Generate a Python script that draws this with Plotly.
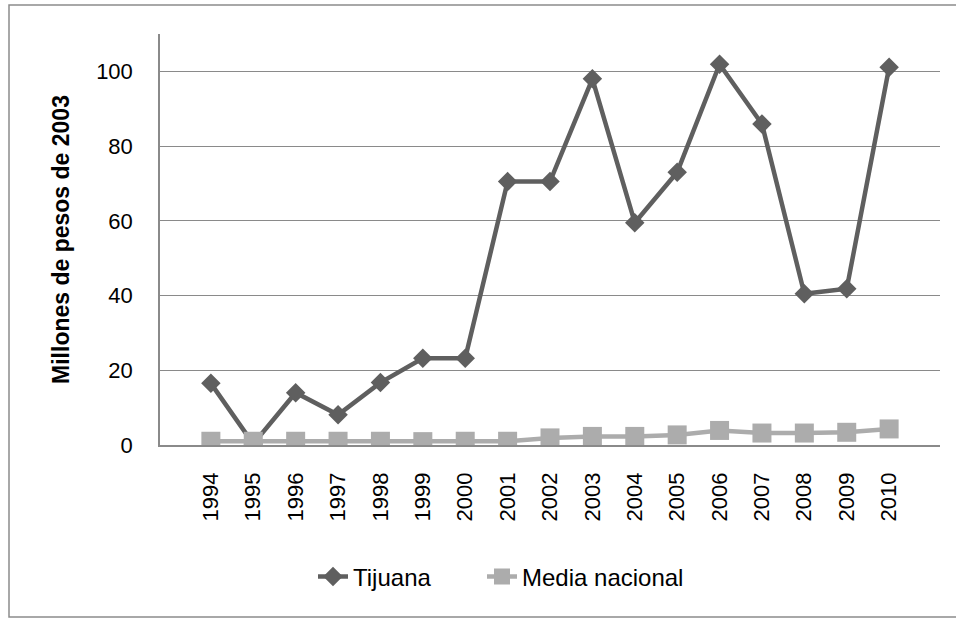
import plotly.graph_objects as go

# Series data
years = ["1994", "1995", "1996", "1997", "1998", "1999", "2000", "2001", "2002",
         "2003", "2004", "2005", "2006", "2007", "2008", "2009", "2010"]
tijuana = [16.5, 0.3, 14.0, 8.1, 16.7, 23.2, 23.2, 70.5, 70.5,
           98.0, 59.5, 73.0, 101.9, 85.9, 40.5, 41.8, 101.1]
media_nacional = [1.0, 1.0, 1.0, 1.0, 1.0, 0.9, 1.0, 1.0, 1.9,
                  2.3, 2.3, 2.7, 3.9, 3.2, 3.2, 3.4, 4.3]
y_ticks = [0, 20, 40, 60, 80, 100]

W, H = 956, 618
ML, MR, MT, MB = 160, 16, 34, 173
FONT = "Liberation Sans, Arial, sans-serif"


def px_to_paper(x=None, y=None):
    """Convert pixel coordinates of the page into paper coordinates."""
    pw, ph = W - ML - MR, H - MT - MB
    out = []
    if x is not None:
        out.append((x - ML) / pw)
    if y is not None:
        out.append((H - MB - y) / ph)
    return out[0] if len(out) == 1 else tuple(out)


fig = go.Figure()
fig.add_trace(go.Scatter(
    x=years, y=tijuana, name="Tijuana", mode="lines+markers",
    line=dict(color="#5f5f5f", width=4.5),
    marker=dict(symbol="diamond", size=15, color="#5f5f5f"),
    legend="legend",
))
fig.add_trace(go.Scatter(
    x=years, y=media_nacional, name="Media nacional", mode="lines+markers",
    line=dict(color="#acacac", width=4.5),
    marker=dict(symbol="square", size=19, color="#acacac"),
    legend="legend2",
))

# outer chart frame (its right edge runs off the page)
x0, y0 = px_to_paper(x=9, y=5)
x1, y1 = px_to_paper(x=970, y=617)
fig.add_shape(type="rect", xref="paper", yref="paper",
              x0=x0, y0=y1, x1=x1, y1=y0,
              line=dict(color="#8c8c8c", width=1.5), layer="below")

leg_y = px_to_paper(y=577)
leg_common = dict(orientation="h", y=leg_y, xanchor="left", yanchor="middle",
                  font=dict(size=24, color="#000000"),
                  bgcolor="rgba(0,0,0,0)")

fig.update_layout(
    width=W, height=H,
    margin=dict(l=ML, r=MR, t=MT, b=MB, autoexpand=False),
    paper_bgcolor="white", plot_bgcolor="white",
    font=dict(family=FONT, color="#000000", size=22),
    showlegend=True,
    legend=dict(x=px_to_paper(x=313), **leg_common),
    legend2=dict(x=px_to_paper(x=482), **leg_common),
    xaxis=dict(
        type="category", tickangle=-90, showgrid=False,
        showline=True, linecolor="#8a8a8a", linewidth=1.5,
        ticks="", ticklabelstandoff=17, automargin=False,
        tickfont=dict(size=22),
    ),
    yaxis=dict(
        range=[0, 110], tickvals=y_ticks, showgrid=True,
        gridcolor="#8a8a8a", gridwidth=1.3,
        showline=True, linecolor="#8a8a8a", linewidth=1.5,
        zeroline=False, ticks="", ticklabelstandoff=21, automargin=False,
        tickfont=dict(size=22),
        title=dict(text="<b>Millones de pesos de 2003</b>",
                   font=dict(size=23), standoff=20),
    ),
)

fig.write_html("out.html")
